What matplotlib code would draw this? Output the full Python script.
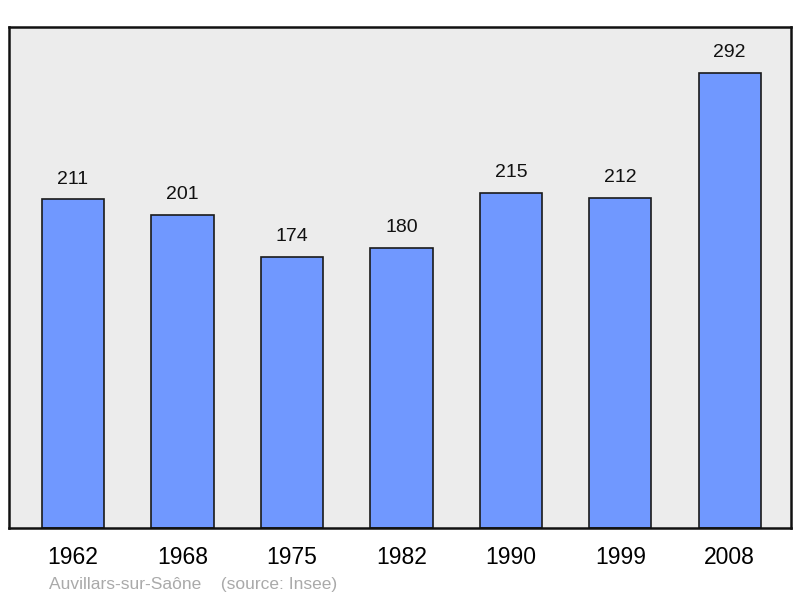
import matplotlib.pyplot as plt

plt.rcParams['font.family'] = ['Liberation Sans', 'DejaVu Sans']

years = ['1962', '1968', '1975', '1982', '1990', '1999', '2008']
population = [211, 201, 174, 180, 215, 212, 292]

fig = plt.figure(figsize=(8, 5.98), dpi=100)
ax = fig.add_axes([9 / 800, 70 / 598, 782 / 800, 501 / 598])
ax.set_facecolor('#ececec')

x = range(len(years))
ax.bar(x, population, width=0.57, color='#7098ff', edgecolor='#1a1a1a', linewidth=1.2, zorder=2)
for i, v in enumerate(population):
    ax.annotate(str(v), (i, v), xytext=(0, 14.5), textcoords='offset points',
                ha='center', va='center', fontsize=14, color='#111111')

ax.set_xlim(-0.585, 6.56)
ax.set_ylim(0, 321.5)
ax.set_xticks(list(x))
ax.set_xticklabels(years, fontsize=16.5)
ax.tick_params(axis='x', length=0, pad=13)
ax.set_yticks([])
for s in ax.spines.values():
    s.set_linewidth(1.8)
    s.set_color('#111111')

fig.text(49 / 800, 1 - 585 / 598, 'Auvillars-sur-Saône    (source: Insee)',
         fontsize=12.5, color='#aaaaaa', va='center', ha='left')

fig.savefig('out.png', dpi=100)
